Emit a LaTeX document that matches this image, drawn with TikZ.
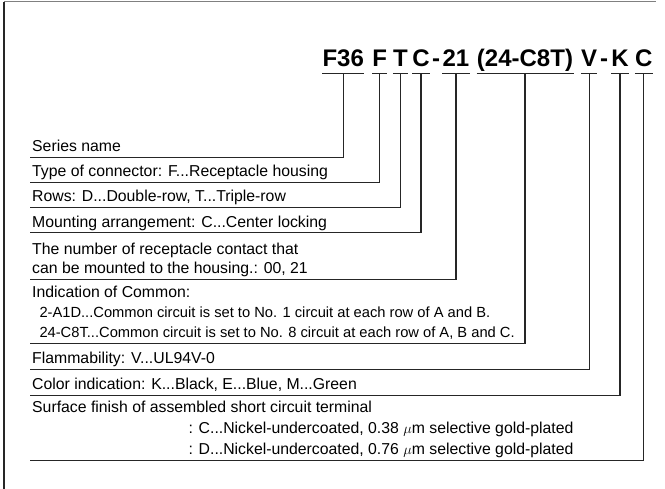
\documentclass[tikz,border=0pt]{standalone}
\usepackage{fontspec}
\setmainfont{Liberation Sans}
\usepackage{tikz}
\newcommand{\codefont}{\fontsize{24}{28}\selectfont\bfseries}
\newcommand{\descfont}{\fontsize{15.8}{19}\selectfont}
\newcommand{\subfont}{\fontsize{14.7}{18}\selectfont}
\tikzset{
  code/.style={font=\codefont, inner sep=0pt, anchor=base, text depth=6.5pt},
  desc/.style={font=\descfont, inner xsep=2pt, inner ysep=0pt, anchor=base west, text depth=5pt},
  subdesc/.style={font=\subfont, inner sep=0pt, anchor=base west},
  lead/.style={draw=black!85, line width=1.1pt},
}

\begin{document}
\begin{tikzpicture}[x=1pt, y=-1pt]
  \useasboundingbox (0,0) rectangle (665,489);
  % frame
  \draw[gray, line width=1pt] (4,2) -- (656,2);
  \draw[black!85, line width=1.3pt] (4,2) -- (4,489);

  % part number
  \node[code, minimum width=40.3pt] (pSeries) at (343.2,66.5) {F36};
  \node[code, minimum width=14pt] (pType) at (379.7,66.5) {F};
  \node[code, minimum width=13pt] (pRows) at (400.5,66.5) {T};
  \node[code, minimum width=14pt] (pMount) at (421,66.5) {C};
  \node[code] (pDashA) at (436,66.5) {-};
  \node[code, minimum width=24pt] (pNum) at (456,66.5) {21};
  \node[code, minimum width=96.6pt] (pCommon) at (525,66.5) {(24-C8T)};
  \node[code, minimum width=15pt] (pFlam) at (589.2,66.5) {V};
  \node[code] (pDashB) at (604,66.5) {-};
  \node[code, minimum width=16.6pt] (pColor) at (620,66.5) {K};
  \node[code, minimum width=15.7pt] (pFinish) at (643.8,66.5) {C};
  \foreach \p in {pSeries,pType,pRows,pMount,pNum,pCommon,pFlam,pColor,pFinish}
    \draw[lead] (\p.south west) -- (\p.south east);

  % descriptions
  \node[desc] (dSeries) at (30,152) {Series name};
  \node[desc] (dType) at (30,177) {Type of connector: F...Receptacle housing};
  \node[desc] (dRows) at (30,202) {Rows: D...Double-row, T...Triple-row};
  \node[desc] (dMount) at (30,227.5) {Mounting arrangement: C...Center locking};
  \node[desc] (dNumA) at (30,254.5) {The number of receptacle contact that};
  \node[desc] (dNum) at (30,274) {can be mounted to the housing.: 00, 21};
  \node[desc] (dComA) at (30,297.5) {Indication of Common:};
  \node[subdesc] (dComB) at (39.3,317.5) {2-A1D...Common circuit is set to No. 1 circuit at each row of A and B.};
  \node[subdesc, text depth=5.3pt] (dCom) at (39.3,338) {24-C8T...Common circuit is set to No. 8 circuit at each row of A, B and C.};
  \node[desc] (dFlam) at (30,364) {Flammability: V...UL94V-0};
  \node[desc] (dColor) at (30,390) {Color indication: K...Black, E...Blue, M...Green};
  \node[desc] (dFinA) at (30,413) {Surface finish of assembled short circuit terminal};
  \node[desc] (dFinB) at (186.3,433.5) {: C...Nickel-undercoated, 0.38 $\mu$m selective gold-plated};
  \node[desc, text depth=5.5pt] (dFin) at (186.3,454.5) {: D...Nickel-undercoated, 0.76 $\mu$m selective gold-plated};

  % leaders
  \draw[lead] (pSeries.south) |- (dSeries.south west);
  \draw[lead] (pType.south) |- (dType.south west);
  \draw[lead] (pRows.south) |- (dRows.south west);
  \draw[lead] (pMount.south) |- (dMount.south west);
  \draw[lead] (pNum.south) |- (dNum.south west);
  \draw[lead] (pCommon.south) |- (dComA.west |- dCom.south);
  \draw[lead] (pFlam.south) |- (dFlam.south west);
  \draw[lead] (pColor.south) |- (dColor.south west);
  \draw[lead] (pFinish.south) |- (dFinA.west |- dFin.south);
\end{tikzpicture}
\end{document}
